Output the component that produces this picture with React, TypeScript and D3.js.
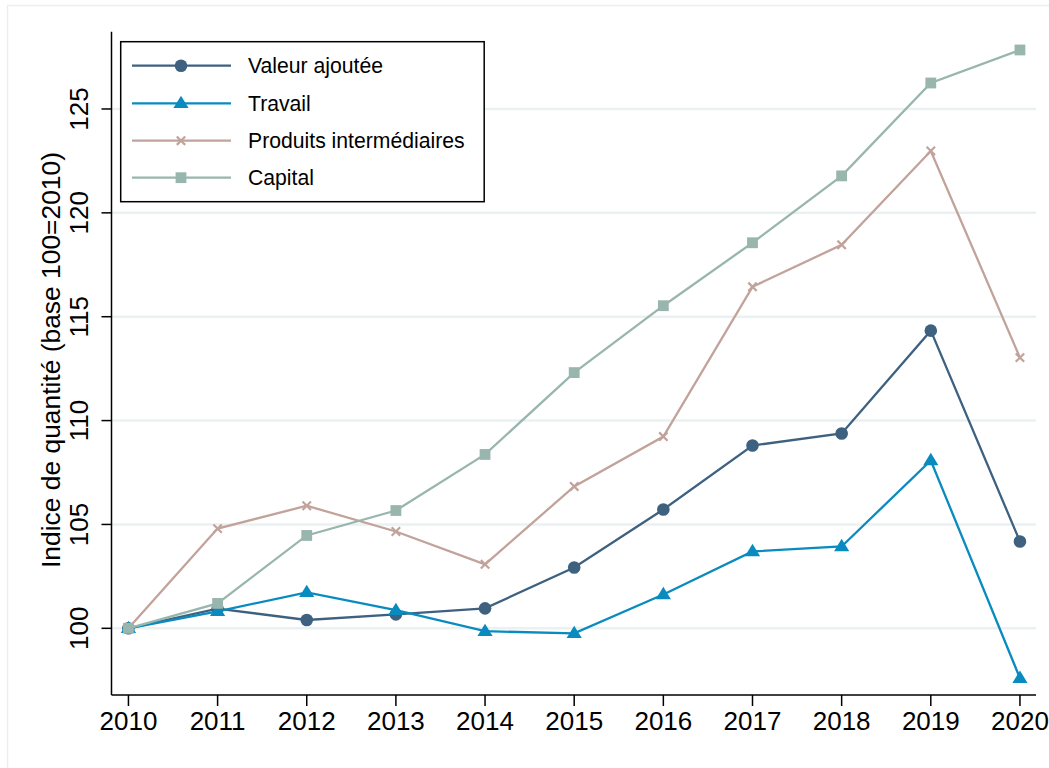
import React from "react";
import * as d3 from "d3";

const years = [2010, 2011, 2012, 2013, 2014, 2015, 2016, 2017, 2018, 2019, 2020];
const valeurAjoutee = [100, 100.95, 100.4, 100.67, 100.96, 102.93, 105.72, 108.8, 109.38, 114.33, 104.18];
const travail = [100, 100.82, 101.73, 100.87, 99.86, 99.76, 101.63, 103.7, 103.94, 108.08, 97.6];
const produitsInter = [100, 104.8, 105.9, 104.66, 103.08, 106.83, 109.23, 116.44, 118.46, 122.98, 113.03];
const capital = [100, 101.2, 104.47, 105.67, 108.37, 112.31, 115.53, 118.56, 121.78, 126.25, 127.84];
const yTicks = [100, 105, 110, 115, 120, 125];
const seriesNames = ["Valeur ajoutée", "Travail", "Produits intermédiaires", "Capital"];
const seriesColors = ["#3e6180", "#0a8bbf", "#c2a39b", "#98b6ad"];
const seriesMarkers = ["circle", "triangle", "x", "square"];
const yTitle = "Indice de quantité (base 100=2010)";

const W = 1049;
const H = 768;
const left = 111.5;
const right = 1036;
const top = 31.7;
const bottom = 695;

const x = d3.scaleLinear().domain([2009.81, 2020.18]).range([left, right]);
const y = d3.scaleLinear().domain([96.79, 128.72]).range([bottom, top]);

function Marker({ type, cx, cy, color }: { type: string; cx: number; cy: number; color: string }) {
  if (type === "circle") return <circle cx={cx} cy={cy} r={6.3} fill={color} />;
  if (type === "triangle") {
    const s = 7.6;
    return (
      <path
        d={`M${cx},${cy - s} L${cx + s},${cy + s * 0.62} L${cx - s},${cy + s * 0.62} Z`}
        fill={color}
      />
    );
  }
  if (type === "square") {
    const s = 5.4;
    return <rect x={cx - s} y={cy - s} width={2 * s} height={2 * s} fill={color} />;
  }
  const s = 4.2;
  return (
    <path
      d={`M${cx - s},${cy - s} L${cx + s},${cy + s} M${cx - s},${cy + s} L${cx + s},${cy - s}`}
      stroke={color}
      strokeWidth={2.2}
      fill="none"
    />
  );
}

export default function App() {
  const data = [valeurAjoutee, travail, produitsInter, capital];
  const line = d3
    .line<number>()
    .x((_, i) => x(years[i]))
    .y((d) => y(d));
  const font = "'Liberation Sans', Arial, Helvetica, sans-serif";
  const legendRows = [65.7, 103.3, 140.7, 177.7];
  return (
    <svg
      width={W}
      height={H}
      style={{ position: "absolute", left: 0, top: 0, background: "#fff" }}
      fontFamily={font}
    >
      <rect x={0} y={0} width={W} height={H} fill="#fff" />
      <rect x={7.5} y={5.5} width={W + 20} height={H + 20} fill="none" stroke="#e8f0f1" strokeWidth={1.5} />
      {yTicks.map((t) => (
        <line key={t} x1={left} x2={right} y1={y(t)} y2={y(t)} stroke="#eaf1f3" strokeWidth={2.5} />
      ))}
      {data.map((vals, si) => (
        <g key={si}>
          <path d={line(vals) || ""} fill="none" stroke={seriesColors[si]} strokeWidth={2.3} />
          {vals.map((v, i) => (
            <Marker key={i} type={seriesMarkers[si]} cx={x(years[i])} cy={y(v)} color={seriesColors[si]} />
          ))}
        </g>
      ))}
      <line x1={left} x2={left} y1={top} y2={bottom} stroke="#000" strokeWidth={1.5} />
      <line x1={left} x2={right} y1={bottom} y2={bottom} stroke="#000" strokeWidth={1.5} />
      {yTicks.map((t) => (
        <g key={t}>
          <line x1={left - 10} x2={left} y1={y(t)} y2={y(t)} stroke="#000" strokeWidth={1.5} />
          <text
            transform={`translate(${88},${y(t)}) rotate(-90)`}
            textAnchor="middle"
            fontSize={26}
            fill="#000"
          >
            {t}
          </text>
        </g>
      ))}
      {years.map((yr) => (
        <g key={yr}>
          <line x1={x(yr)} x2={x(yr)} y1={bottom} y2={bottom + 11} stroke="#000" strokeWidth={1.5} />
          <text x={x(yr)} y={730} textAnchor="middle" fontSize={26} fill="#000">
            {yr}
          </text>
        </g>
      ))}
      <text
        transform={`translate(${60},${360}) rotate(-90)`}
        textAnchor="middle"
        fontSize={26.4}
        fill="#000"
      >
        {yTitle}
      </text>
      <rect x={120.7} y={41.7} width={363.5} height={160} fill="#fff" stroke="#000" strokeWidth={1.5} />
      {seriesNames.map((name, i) => (
        <g key={name}>
          <line x1={132} x2={231} y1={legendRows[i]} y2={legendRows[i]} stroke={seriesColors[i]} strokeWidth={2.3} />
          <Marker type={seriesMarkers[i]} cx={181} cy={legendRows[i]} color={seriesColors[i]} />
          <text x={248} y={legendRows[i] + 7.5} fontSize={21.2} fill="#000">
            {name}
          </text>
        </g>
      ))}
    </svg>
  );
}
